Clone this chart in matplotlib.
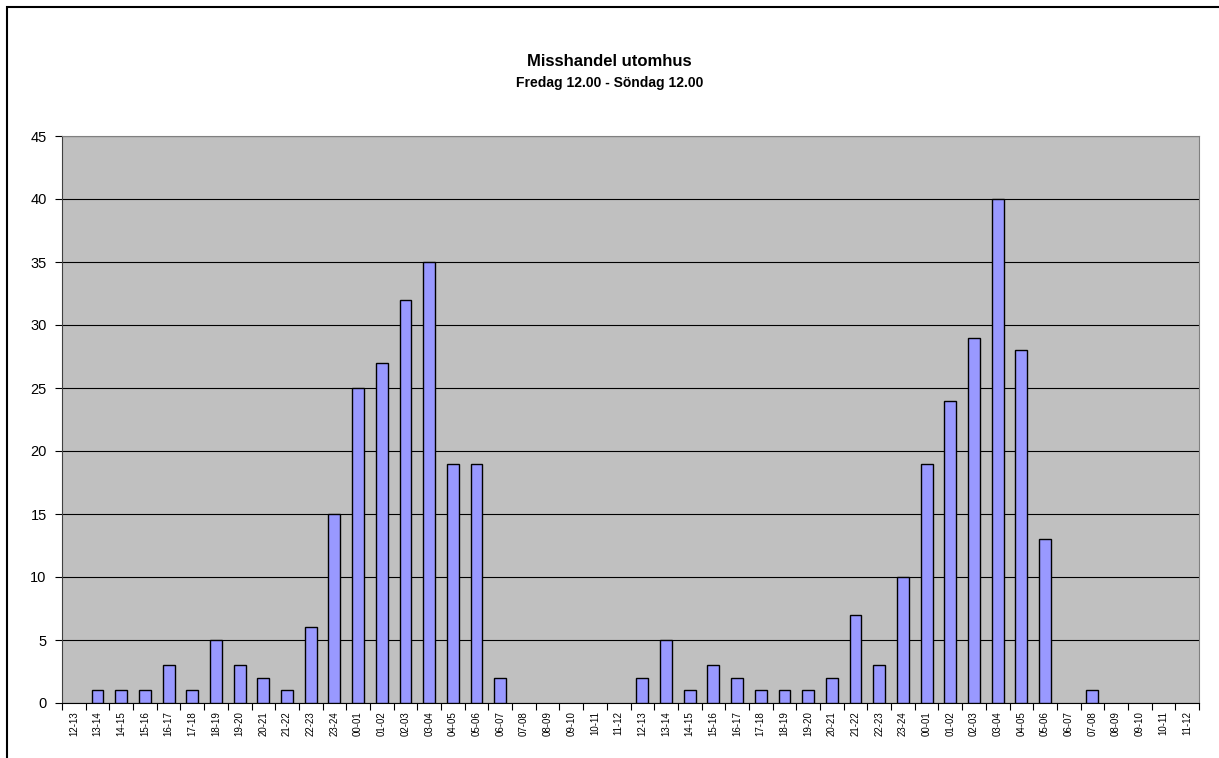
import matplotlib.pyplot as plt
import numpy as np
from matplotlib.patches import Rectangle

plt.rcParams['font.family'] = ['Liberation Sans', 'DejaVu Sans']

hours = ["12-13", "13-14", "14-15", "15-16", "16-17", "17-18", "18-19", "19-20",
         "20-21", "21-22", "22-23", "23-24", "00-01", "01-02", "02-03", "03-04",
         "04-05", "05-06", "06-07", "07-08", "08-09", "09-10", "10-11", "11-12"]
labels = hours + hours
friday = [0, 1, 1, 1, 3, 1, 5, 3, 2, 1, 6, 15, 25, 27, 32, 35, 19, 19, 2, 0, 0, 0, 0, 0]
saturday = [2, 5, 1, 3, 2, 1, 1, 1, 2, 7, 3, 10, 19, 24, 29, 40, 28, 13, 0, 1, 0, 0, 0, 0]
counts = friday + saturday

fig = plt.figure(figsize=(12.19, 7.58), dpi=100)
ax = fig.add_axes([62 / 1219, 1 - 703 / 758, (1199 - 62) / 1219, (703 - 136) / 758])

x = np.arange(len(labels))
ax.set_facecolor('#C0C0C0')
# no outline for empty hours
edge_w = [1 if c > 0 else 0 for c in counts]
ax.bar(x, counts, width=0.5, color='#9999FF', edgecolor='black', linewidth=edge_w, zorder=3)

ax.set_xlim(-0.5, len(labels) - 0.5)
ax.set_ylim(0, 45)
ax.set_yticks(range(0, 46, 5))
ax.yaxis.grid(True, color='black', linewidth=0.8, zorder=1)
ax.tick_params(axis='y', labelsize=10.5, direction='out', length=5, pad=6)

ax.set_xticks(np.arange(-0.5, len(labels), 1))
ax.set_xticklabels([])
ax.set_xticks(x, minor=True)
ax.set_xticklabels(labels, minor=True, rotation=90, fontsize=7)
ax.tick_params(axis='x', which='major', direction='out', length=5)
ax.tick_params(axis='x', which='minor', length=0, pad=6)

for side in ['top', 'right']:
    ax.spines[side].set_color('#808080')
ax.spines['left'].set_color('#404040')
ax.spines['bottom'].set_color('black')

fig.text(0.5, 1 - 62 / 758, "Misshandel utomhus", ha='center', va='center',
         fontsize=12, fontweight='bold')
fig.text(0.5, 1 - 83 / 758, "Fredag 12.00 - Söndag 12.00", ha='center', va='center',
         fontsize=10, fontweight='bold')

fig.patches.append(Rectangle((7 / 1219, -0.1), 1.2, 1 - 7 / 758 + 0.1,
                             transform=fig.transFigure, fill=False,
                             edgecolor='black', linewidth=1.5))

fig.savefig('out.png', dpi=100)
